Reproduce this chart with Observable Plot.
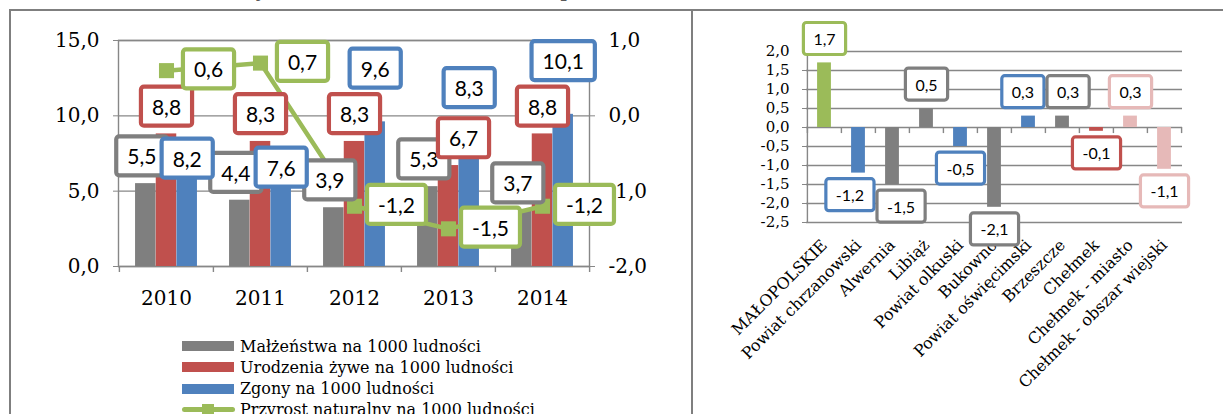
<!DOCTYPE html>
<html><head><meta charset="utf-8">
<script src="https://cdn.jsdelivr.net/npm/d3@7"></script>
<script src="https://cdn.jsdelivr.net/npm/@observablehq/plot@0.6"></script>
<style>
html,body{margin:0;padding:0;background:#fff;overflow:hidden;width:1223px;height:414px;}
#wrap{position:relative;width:1223px;height:414px;overflow:hidden;}
.abs{position:absolute;}
.line{position:absolute;background:#7f7f7f;z-index:5;}
.leg{position:absolute;font-family:"DejaVu Serif";font-size:16px;line-height:21px;white-space:nowrap;color:#000;}
</style></head><body><div id="wrap"></div>
<script>
// ---------- data ----------
const years = ["2010","2011","2012","2013","2014"];
const marriages = [5.5, 4.4, 3.9, 5.3, 3.7];
const births = [8.8, 8.3, 8.3, 6.7, 8.8];
const deaths = [8.2, 7.6, 9.6, 8.3, 10.1];
const growth = [0.6, 0.7, -1.2, -1.5, -1.2];
const seriesNames = ["Małżeństwa na 1000 ludności", "Urodzenia żywe na 1000 ludności", "Zgony na 1000 ludności", "Przyrost naturalny na 1000 ludności"];
const leftTicks = [0, 5, 10, 15];
const rightTicks = [-2, -1, 0, 1];

const regions = ["MAŁOPOLSKIE", "Powiat chrzanowski", "Alwernia", "Libiąż", "Powiat olkuski", "Bukowno", "Powiat oświęcimski", "Brzeszcze", "Chełmek", "Chełmek - miasto", "Chełmek - obszar wiejski"];
const regionGrowth = [1.7, -1.2, -1.5, 0.5, -0.5, -2.1, 0.3, 0.3, -0.1, 0.3, -1.1];
const regionKind = ["region", "powiat", "gmina", "gmina", "powiat", "gmina", "powiat", "gmina", "chelmek", "part", "part"];
const regionTicks = [-2.5, -2, -1.5, -1, -0.5, 0, 0.5, 1, 1.5, 2];

const titleText = "Ruch naturalny ludności w latach 2010–2014 (przeliczenie na 1000 ludności)";

// ---------- style ----------
const C = {gray: "#7F7F7F", red: "#C0504D", blue: "#4F81BD", green: "#9BBB59", pink: "#E6B9B8"};
const kindColor = {region: C.green, powiat: C.blue, gmina: C.gray, chelmek: C.red, part: C.pink};
const GRID = "#878787";
const fmt = d => d.toFixed(1).replace(".", ",");
const wrap = document.getElementById("wrap");
const NS = "http://www.w3.org/2000/svg";
const ctx = document.createElement("canvas").getContext("2d");
const textW = (t, font) => { ctx.font = font; return ctx.measureText(t).width; };
const hit = (a, b) => a.x0 < b.x1 && b.x0 < a.x1 && a.y0 < b.y1 && b.y0 < a.y1;

// Left-axis scale maps right-axis values: right [-2,1] <-> left [0,15]
const k = leftTicks[leftTicks.length - 1] / (rightTicks[rightTicks.length - 1] - rightTicks[0]);
const toLeft = g => (g - rightTicks[0]) * k;
const fromLeft = v => v / k + rightTicks[0];

// ---------- left chart ----------
const LW = 692, LH = 320, LML = 118, LMR = 103, LMT = 40, LMB = 54;
const step = (LW - LML - LMR) / years.length;
const barW = 20.7, off = (step - 3 * barW) / 2;
const rows = years.map((year, i) => ({year, m: marriages[i], b: births[i], d: deaths[i], g: growth[i], gl: toLeft(growth[i])}));
const LFONT = 21, LPADX = 11, LBOXH = 39;
const GDX = -barW - 4, GDY = -26, RDY = -26, RSHIFT = 15, BUP = -52, BDOWN = 17, LINEDX = 42;

function leftChart(blueAbove, redShift) {
  const lab = {fill: "#000", fontFamily: "Lato", fontSize: LFONT};
  return Plot.plot({
    width: LW, height: LH, marginLeft: LML, marginRight: LMR, marginTop: LMT, marginBottom: LMB,
    style: {fontFamily: "DejaVu Serif", fontSize: "20px", background: "transparent", color: "#000", overflow: "visible"},
    x: {type: "band", domain: years, padding: 0, label: null},
    y: {domain: [0, 15], label: null},
    marks: [
      Plot.ruleY(leftTicks, {stroke: GRID, strokeWidth: 1.4}),
      Plot.frame({stroke: GRID, strokeWidth: 1.4}),
      Plot.ruleX(years, {y1: 0, y2: -0.4, dx: -step / 2, stroke: GRID, strokeWidth: 1.4}),
      Plot.ruleX([years[years.length - 1]], {y1: 0, y2: -0.4, dx: step / 2, stroke: GRID, strokeWidth: 1.4}),
      Plot.barY(rows, {x: "year", y: "m", fill: C.gray, insetLeft: off, insetRight: step - off - barW}),
      Plot.barY(rows, {x: "year", y: "b", fill: C.red, insetLeft: off + barW, insetRight: step - off - 2 * barW}),
      Plot.barY(rows, {x: "year", y: "d", fill: C.blue, insetLeft: off + 2 * barW, insetRight: off}),
      Plot.line(rows, {x: "year", y: "gl", stroke: C.green, strokeWidth: 4.5}),
      Plot.dot(rows, {x: "year", y: "gl", symbol: "square", r: 8.5, fill: C.green}),
      Plot.axisY(leftTicks, {tickFormat: fmt, tickSize: 5, tickPadding: 14, stroke: GRID, fill: "#000", fontSize: 20, label: null}),
      Plot.axisY(leftTicks, {anchor: "right", tickFormat: d => fmt(fromLeft(d)), tickSize: 5, tickPadding: 14, stroke: GRID, fill: "#000", fontSize: 20, label: null}),
      Plot.axisX({tickSize: 0, tickPadding: 24, fill: "#000", fontSize: 20, label: null}),
      Plot.text(rows, {x: "year", y: "m", text: d => fmt(d.m), dx: GDX, dy: GDY, stroke: C.gray, ...lab}),
      Plot.text(rows.filter((d, i) => !redShift[i]), {x: "year", y: "b", text: d => fmt(d.b), dx: 0, dy: RDY, stroke: C.red, ...lab}),
      Plot.text(rows.filter((d, i) => redShift[i]), {x: "year", y: "b", text: d => fmt(d.b), dx: RSHIFT, dy: RDY, stroke: C.red, ...lab}),
      Plot.text(rows.filter((d, i) => !blueAbove[i]), {x: "year", y: "d", text: d => fmt(d.d), dx: barW, dy: BDOWN, stroke: C.blue, ...lab}),
      Plot.text(rows.filter((d, i) => blueAbove[i]), {x: "year", y: "d", text: d => fmt(d.d), dx: barW, dy: BUP, stroke: C.blue, ...lab}),
      Plot.text(rows, {x: "year", y: "gl", text: d => fmt(d.g), dx: LINEDX, dy: 0, stroke: C.green, ...lab})
    ]
  });
}

// simple label collision handling
const LF = LFONT + "px Lato";
function lbox(cx, cy, t) {
  const w = textW(t, LF) + 2 * LPADX;
  return {x0: cx - w / 2, x1: cx + w / 2, y0: cy - LBOXH / 2, y1: cy + LBOXH / 2};
}
const probe = leftChart(years.map(() => true), years.map(() => false));
const xs = probe.scale("x"), ys = probe.scale("y");
const cx = y => xs.apply(y) + xs.bandwidth / 2;
const grayBoxes = rows.map(r => lbox(cx(r.year) + GDX, ys.apply(r.m) + GDY, fmt(r.m)));
const redShift = rows.map((r, i) => hit(grayBoxes[i], lbox(cx(r.year), ys.apply(r.b) + RDY, fmt(r.b))));
const placed = [...grayBoxes];
rows.forEach((r, i) => {
  placed.push(lbox(cx(r.year) + (redShift[i] ? RSHIFT : 0), ys.apply(r.b) + RDY, fmt(r.b)));
  placed.push(lbox(cx(r.year) + LINEDX, ys.apply(r.gl), fmt(r.g)));
});
const blueAbove = rows.map(r => {
  const b = lbox(cx(r.year) + barW, ys.apply(r.d) + BUP, fmt(r.d));
  return !placed.some(p => hit(p, b));
});
const left = leftChart(blueAbove, redShift);
left.style.position = "absolute"; left.style.left = "0px"; left.style.top = "0px";
wrap.appendChild(left);

// ---------- right chart ----------
const RW = 531, RH = 414, RML = 114, RMR = 41, RMT = 51, RMB = 192;
const rstep = (RW - RML - RMR) / regions.length;
const rBarW = 14;
const rrows = regions.map((name, i) => ({name, v: regionGrowth[i], c: kindColor[regionKind[i]]}));
const RFONT = 16, RPADX = 10, RBOXH = 32, RDYL = 23;
function rightChart(shifts) {
  const rlab = {fill: "#000", fontFamily: "Lato", fontSize: RFONT};
  return Plot.plot({
    width: RW, height: RH, marginLeft: RML, marginRight: RMR, marginTop: RMT, marginBottom: RMB,
    style: {fontFamily: "DejaVu Serif", fontSize: "15px", background: "transparent", color: "#000", overflow: "visible"},
    x: {type: "band", domain: regions, padding: 0, label: null},
    y: {domain: [-2.5, 2], label: null},
    color: {type: "identity"},
    marks: [
      Plot.ruleY(regionTicks, {stroke: GRID, strokeWidth: 1.4}),
      Plot.ruleX([regions[0]], {y1: -2.5, y2: 2, dx: -rstep / 2, stroke: GRID, strokeWidth: 1.4}),
      Plot.ruleX(regions, {y1: 0, y2: -0.16, dx: -rstep / 2, stroke: GRID, strokeWidth: 1.4}),
      Plot.ruleX([regions[regions.length - 1]], {y1: 0, y2: -0.16, dx: rstep / 2, stroke: GRID, strokeWidth: 1.4}),
      Plot.barY(rrows, {x: "name", y: "v", fill: "c", insetLeft: (rstep - rBarW) / 2, insetRight: (rstep - rBarW) / 2}),
      Plot.axisY(regionTicks, {tickFormat: fmt, tickSize: 4, tickPadding: 13, stroke: GRID, fill: "#000", fontSize: 15, label: null}),
      Plot.axisX({tickSize: 0, tickPadding: 20, tickRotate: -45, fill: "#000", fontSize: 16, label: null}),
      ...rrows.map((d, i) => Plot.text([d], {x: "name", y: "v", text: d => fmt(d.v), dx: shifts[i], dy: d.v >= 0 ? -RDYL : RDYL, stroke: d.c, ...rlab}))
    ]
  });
}
const rprobe = rightChart(rrows.map(() => 0));
const rxs = rprobe.scale("x"), rys = rprobe.scale("y");
const RF = RFONT + "px Lato";
const rl = rrows.map(d => {
  const w = textW(fmt(d.v), RF) + 2 * RPADX;
  return {cx: rxs.apply(d.name) + rxs.bandwidth / 2, cy: rys.apply(d.v) + (d.v >= 0 ? -RDYL : RDYL), w, shift: 0};
});
for (let it = 0; it < 4; it++) {
  for (let i = 0; i < rl.length; i++) for (let j = i + 1; j < rl.length; j++) {
    const a = rl[i], b = rl[j];
    const ax = a.cx + a.shift, bx = b.cx + b.shift;
    if (Math.abs(a.cy - b.cy) >= RBOXH) continue;
    const need = (a.w + b.w) / 2 + 3 - (bx - ax);
    if (need > 0) { a.shift -= need / 2; b.shift += need / 2; }
  }
}
const right = rightChart(rl.map(l => l.shift));
right.style.position = "absolute"; right.style.left = "692px"; right.style.top = "0px";
wrap.appendChild(right);

// ---------- label boxes (white box, coloured border) ----------
function boxify(svg, padX, h, sw) {
  svg.querySelectorAll('g[aria-label="text"]').forEach(g => {
    const gStroke = g.getAttribute("stroke");
    ["stroke", "stroke-width", "paint-order", "stroke-linejoin"].forEach(a => g.removeAttribute(a));
    g.querySelectorAll("text").forEach(t => {
      const col = t.getAttribute("stroke") || gStroke;
      ["stroke", "stroke-width", "paint-order"].forEach(a => t.removeAttribute(a));
      const bb = t.getBBox();
      const r = document.createElementNS(NS, "rect");
      const cy = bb.y + bb.height / 2;
      r.setAttribute("x", bb.x - padX);
      r.setAttribute("y", cy - h / 2);
      r.setAttribute("width", bb.width + 2 * padX);
      r.setAttribute("height", h);
      r.setAttribute("rx", 3);
      r.setAttribute("fill", "#fff");
      r.setAttribute("stroke", col);
      r.setAttribute("stroke-width", sw);
      if (t.getAttribute("transform")) r.setAttribute("transform", t.getAttribute("transform"));
      g.insertBefore(r, t);
    });
  });
}
boxify(left, LPADX, LBOXH, 4.2);
boxify(right, RPADX, RBOXH, 3.2);

// ---------- legend (left chart) ----------
const legColors = [C.gray, C.red, C.blue, C.green];
seriesNames.forEach((name, i) => {
  const cy = 346 + i * 21.3;
  if (i < 3) {
    const s = document.createElement("div");
    s.className = "abs";
    Object.assign(s.style, {left: "182px", top: (cy - 5) + "px", width: "52px", height: "10px", background: legColors[i]});
    wrap.appendChild(s);
  } else {
    const s = document.createElement("div");
    s.className = "abs";
    Object.assign(s.style, {left: "182px", top: (cy - 2.5) + "px", width: "53px", height: "5px", background: legColors[i], borderRadius: "3px"});
    wrap.appendChild(s);
    const m = document.createElement("div");
    m.className = "abs";
    Object.assign(m.style, {left: "202px", top: (cy - 6) + "px", width: "12px", height: "12px", background: legColors[i]});
    wrap.appendChild(m);
  }
  const t = document.createElement("div");
  t.className = "leg";
  t.textContent = name;
  Object.assign(t.style, {left: "240px", top: (cy - 10.5) + "px"});
  wrap.appendChild(t);
});

// ---------- frame lines and clipped title ----------
const title = document.createElement("div");
title.className = "abs";
title.textContent = titleText;
Object.assign(title.style, {left: "118px", top: "-19px", lineHeight: "20px", fontFamily: "DejaVu Serif", fontWeight: "bold", fontSize: "17px", color: "#595959", whiteSpace: "nowrap"});
wrap.appendChild(title);
[[9, 9, 1214, 2], [9, 9, 2, 405], [690.5, 9, 2, 405]].forEach(([x, y, w, h]) => {
  const d = document.createElement("div");
  d.className = "line";
  Object.assign(d.style, {left: x + "px", top: y + "px", width: w + "px", height: h + "px"});
  wrap.appendChild(d);
});
</script>
</body></html>
